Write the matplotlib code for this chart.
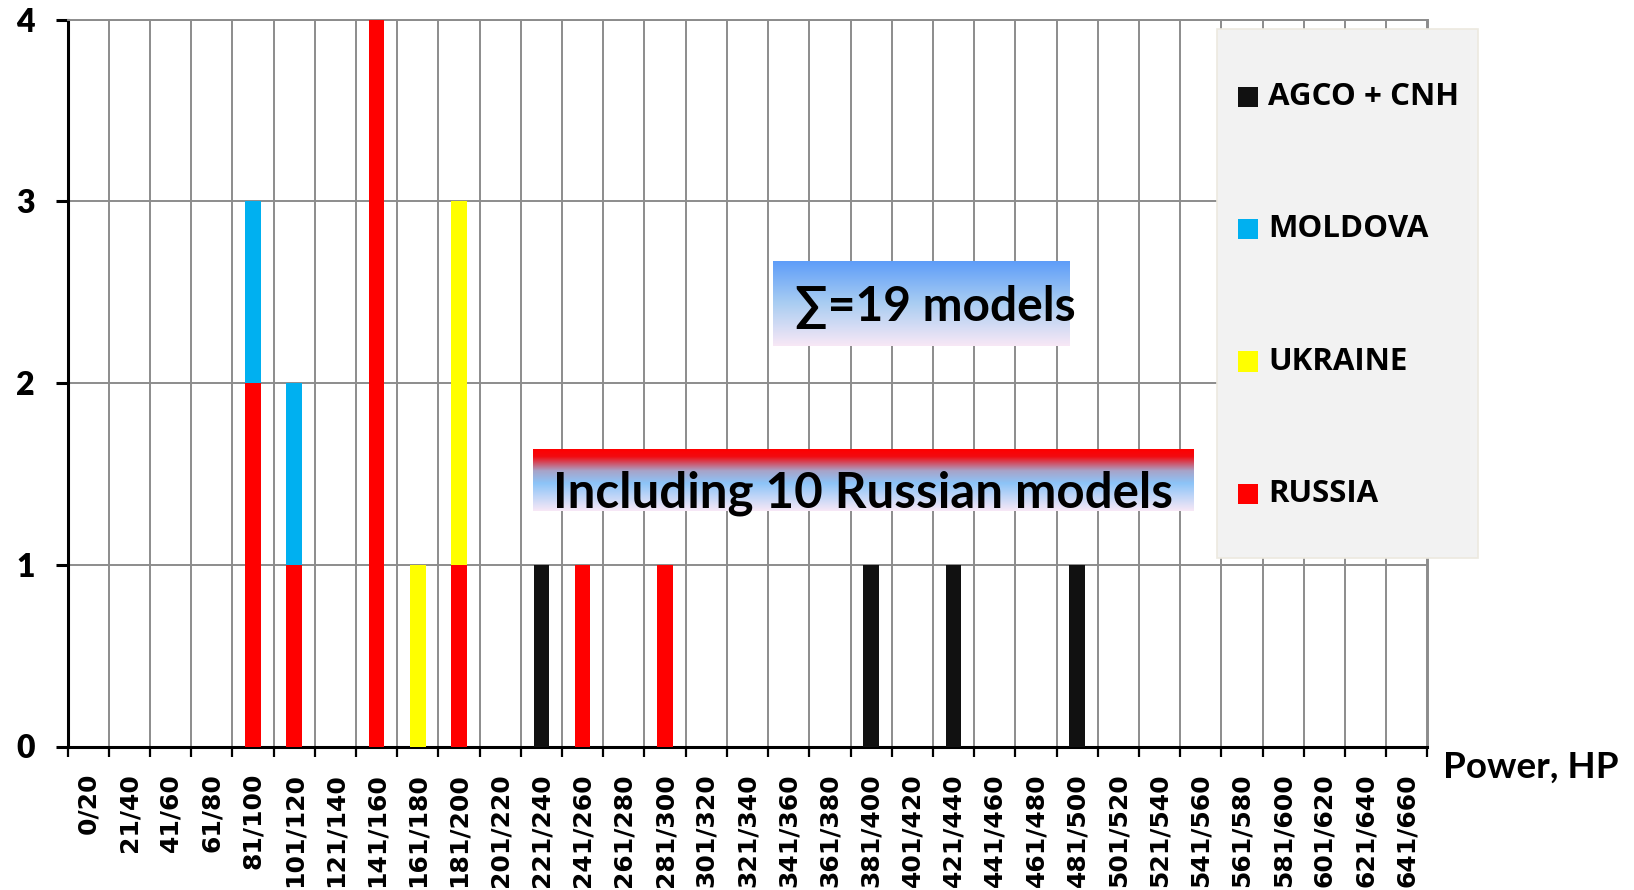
import numpy as np
import matplotlib
matplotlib.use("Agg")
import matplotlib.pyplot as plt
from matplotlib.colors import LinearSegmentedColormap
from matplotlib.patches import Rectangle

# Power classes (HP) and number of tractor models per class
categories = ["0/20", "21/40", "41/60", "61/80", "81/100", "101/120", "121/140",
              "141/160", "161/180", "181/200", "201/220", "221/240", "241/260",
              "261/280", "281/300", "301/320", "321/340", "341/360", "361/380",
              "381/400", "401/420", "421/440", "441/460", "461/480", "481/500",
              "501/520", "521/540", "541/560", "561/580", "581/600", "601/620",
              "621/640", "641/660"]
russia  = [0, 0, 0, 0, 2, 1, 0, 4, 0, 1, 0, 0, 1, 0, 1, 0, 0,
           0, 0, 0, 0, 0, 0, 0, 0, 0, 0, 0, 0, 0, 0, 0, 0]
ukraine = [0, 0, 0, 0, 0, 0, 0, 0, 1, 2, 0, 0, 0, 0, 0, 0, 0,
           0, 0, 0, 0, 0, 0, 0, 0, 0, 0, 0, 0, 0, 0, 0, 0]
moldova = [0, 0, 0, 0, 1, 1, 0, 0, 0, 0, 0, 0, 0, 0, 0, 0, 0,
           0, 0, 0, 0, 0, 0, 0, 0, 0, 0, 0, 0, 0, 0, 0, 0]
agco_cnh = [0, 0, 0, 0, 0, 0, 0, 0, 0, 0, 0, 1, 0, 0, 0, 0, 0,
            0, 0, 1, 0, 1, 0, 0, 1, 0, 0, 0, 0, 0, 0, 0, 0]

series_names = ["RUSSIA", "UKRAINE", "MOLDOVA", "AGCO + CNH"]
series_colors = ["#FF0000", "#FFFF00", "#00B0F0", "#111111"]
series_values = [russia, ukraine, moldova, agco_cnh]

total_models = sum(sum(s) for s in series_values)
russian_models = sum(russia)

W, H = 1634, 890
fig = plt.figure(figsize=(W / 100, H / 100), dpi=100)
fig.patch.set_facecolor("white")

def fx(px):
    return px / W

def fy(py):
    return 1 - py / H

ax_left, ax_right, ax_top, ax_bottom = 67.5, 1427.5, 19.5, 746.5
ax = fig.add_axes([fx(ax_left), fy(ax_bottom), fx(ax_right - ax_left), (ax_bottom - ax_top) / H])

x = np.arange(len(categories))
bottom = np.zeros(len(categories))
for name, col, vals in zip(series_names, series_colors, series_values):
    v = np.array(vals, dtype=float)
    ax.bar(x, v, width=0.38, bottom=bottom, color=col, label=name, zorder=3, linewidth=0)
    bottom += v

grid_col = "#8C8C8C"
ax.set_xlim(-0.5, len(categories) - 0.5)
ax.set_ylim(0, 4)
ax.set_yticks([0, 1, 2, 3, 4])
ax.set_xticks(x)
ax.set_xticklabels(categories, rotation=90, fontfamily="DejaVu Sans",
                   fontweight="bold", fontsize=18)
ax.set_xticks(np.arange(-0.5, len(categories)), minor=True)
ax.tick_params(axis="x", which="major", length=0, pad=19)
ax.tick_params(axis="x", which="minor", length=7, width=1.6, color="black", direction="out")
ax.tick_params(axis="y", which="major", length=8.6, width=2.2, color="black", pad=15)
for lab in ax.get_yticklabels():
    lab.set_fontfamily("Lato")
    lab.set_fontweight("heavy")
    lab.set_fontsize(23)

ax.grid(axis="x", which="minor", color=grid_col, linewidth=1.4, zorder=0)
ax.grid(axis="y", which="major", color=grid_col, linewidth=1.4, zorder=0)
ax.set_axisbelow(True)
for side in ("left", "bottom"):
    ax.spines[side].set_color("black")
    ax.spines[side].set_linewidth(2.2)
for side in ("top", "right"):
    ax.spines[side].set_color(grid_col)
    ax.spines[side].set_linewidth(1.4)

fig.text(fx(1443), fy(778), "Power, HP", fontfamily="Lato", fontweight="bold",
         fontsize=26.5, ha="left", va="baseline")


def gradient_box(x0, y0, x1, y1, stops):
    cmap = LinearSegmentedColormap.from_list("g", stops)
    bax = fig.add_axes([fx(x0), fy(y1), fx(x1 - x0), (y1 - y0) / H], zorder=5)
    grad = np.linspace(0, 1, 256).reshape(-1, 1)
    bax.imshow(grad, cmap=cmap, aspect="auto", extent=(0, 1, 0, 1), origin="upper")
    bax.set_axis_off()
    return bax


gradient_box(773, 260.5, 1070, 346,
             [(0.0, "#5C9CF9"), (0.5, "#A9CDF2"), (1.0, "#F8E8F6")])
fig.text(fx(935), fy(321), f"\u2211={total_models} models",
         fontfamily=["Lato", "DejaVu Sans"], fontweight="bold", fontsize=34.5,
         ha="center", va="baseline", zorder=10)

gradient_box(532.5, 449, 1193, 510.5,
             [(0.0, "#FF0000"), (0.12, "#F20A10"), (0.35, "#A8A3C8"),
              (0.55, "#8CC4F8"), (1.0, "#F8E8F6")])
fig.text(fx(863), fy(508), f"Including {russian_models} Russian models",
         fontfamily="Lato", fontweight="bold", fontsize=35.5,
         ha="center", va="baseline", zorder=10)

# Legend panel, entries listed from top of stack down
leg_x0, leg_y0, leg_x1, leg_y1 = 1217, 29, 1478, 558
fig.patches.append(Rectangle((fx(leg_x0), fy(leg_y1)), fx(leg_x1 - leg_x0), (leg_y1 - leg_y0) / H,
                             transform=fig.transFigure, facecolor="#F2F2F2",
                             edgecolor="#ECE9DF", linewidth=1.2, zorder=6))
entry_y = [97, 229, 361.5, 494]
sq = 20
for yy, name, col in zip(entry_y, series_names[::-1], series_colors[::-1]):
    fig.patches.append(Rectangle((fx(1238), fy(yy + sq / 2)), fx(sq), sq / H,
                                 transform=fig.transFigure, facecolor=col,
                                 edgecolor="none", zorder=7))
    fig.text(fx(1268), fy(yy), name, fontfamily="Open Sans", fontweight="bold",
             fontsize=22.5, ha="left", va="center", zorder=8)

fig.savefig("out.png", dpi=100)
